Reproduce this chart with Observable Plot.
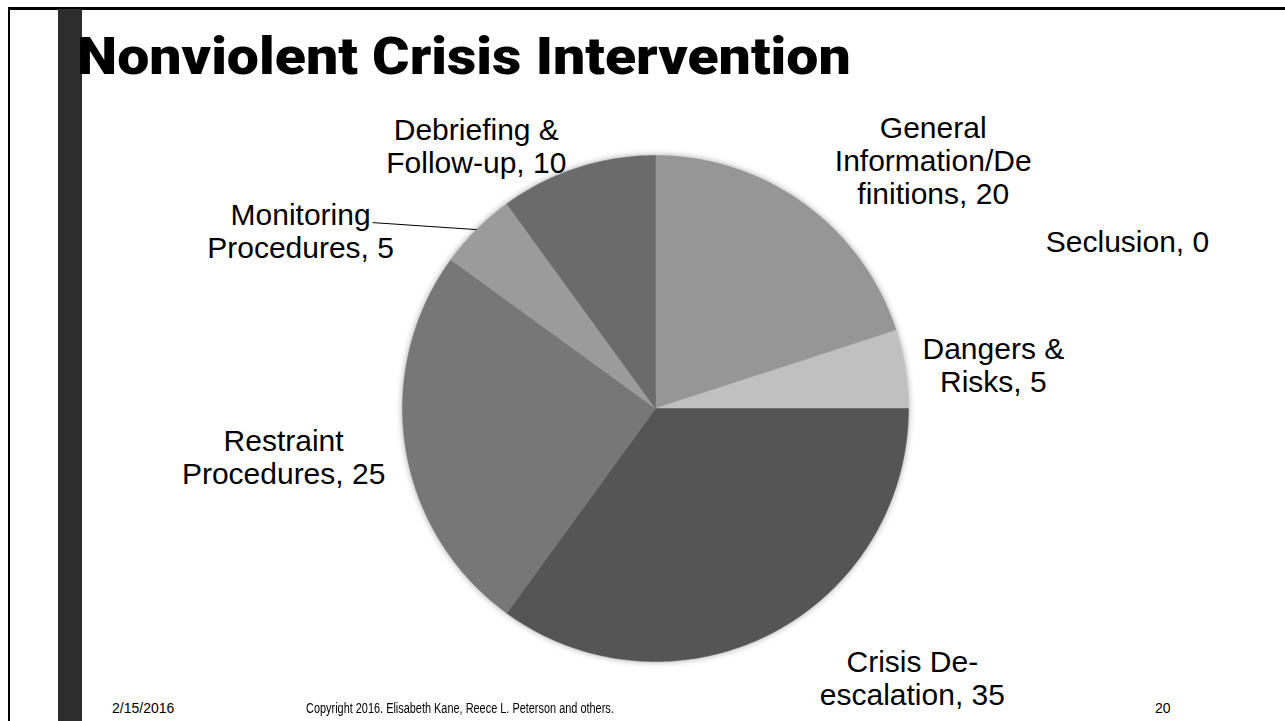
<!DOCTYPE html>
<html>
<head>
<meta charset="utf-8">
<script src="https://cdn.jsdelivr.net/npm/d3@7"></script>
<script src="https://cdn.jsdelivr.net/npm/@observablehq/plot@0.6"></script>
<style>
  html, body { margin: 0; padding: 0; background: #fff; }
  #slide { position: relative; width: 1285px; height: 721px; overflow: hidden; background: #fff; }
  #frameTop { position: absolute; left: 8px; top: 7px; width: 1277px; height: 3px; background: #000; }
  #frameLeft { position: absolute; left: 8px; top: 7px; width: 2px; height: 714px; background: #000; }
  #bar { position: absolute; left: 58px; top: 9px; width: 24px; height: 712px; background: #2d2d2d; }
  #title { position: absolute; left: 77px; top: 31px; font-family: Roboto, "Liberation Sans", sans-serif; font-weight: 900; font-size: 52px; line-height: 1; color: #000; white-space: nowrap; transform: scaleX(1.1); transform-origin: left center; }
  .foot { position: absolute; top: 700px; font-family: "Liberation Sans", sans-serif; font-size: 14px; color: #000; white-space: nowrap; transform-origin: left center; }
  #fCopy { transform: scaleX(0.78); }
  #chart { position: absolute; left: 0; top: 0; }
  #chart g[aria-label="line"] { filter: drop-shadow(0 0 3px rgba(0,0,0,0.35)); }
</style>
</head>
<body>
<div id="slide">
  <div id="chart"></div>
  <div id="frameTop"></div>
  <div id="frameLeft"></div>
  <div id="bar"></div>
  <div id="title"></div>
  <div class="foot" id="fDate" style="left:112px"></div>
  <div class="foot" id="fCopy" style="left:306px"></div>
  <div class="foot" id="fPage" style="left:1155px"></div>
</div>
<script>
// ---- data ----
const titleText = "Nonviolent Crisis Intervention";
const categories = ["General Information/Definitions", "Dangers & Risks", "Seclusion", "Crisis De-escalation", "Restraint Procedures", "Monitoring Procedures", "Debriefing & Follow-up"];
const values = [20, 5, 0, 35, 25, 5, 10];
const labelTexts = ["General\nInformation/De\nfinitions, 20", "Dangers &\nRisks, 5", "Seclusion, 0", "Crisis De-\nescalation, 35", "Restraint\nProcedures, 25", "Monitoring\nProcedures, 5", "Debriefing &\nFollow-up, 10"];
const footerDate = "2/15/2016";
const footerCopy = "Copyright 2016. Elisabeth Kane, Reece L. Peterson and others.";
const footerPage = "20";

// ---- layout / style (not data) ----
const sliceColors = ["#969696", "#c0c0c0", "#aaaaaa", "#555555", "#777777", "#9b9b9b", "#6b6b6b"];
const cx = 655, cy = 408, R = 253;
// pixel offsets of each label centre from the slice's outer mid-point
const labelOffsets = {
  "General Information/Definitions": [129, -43],
  "Dangers & Risks": [88, -4],
  "Seclusion": [219, -167],
  "Crisis De-escalation": [142, 44],
  "Restraint Procedures": [-122, 9],
  "Monitoring Procedures": [-176, 1],
  "Debriefing & Follow-up": [-101, -22]
};
const leader = {name: "Monitoring Procedures", dx: -104, dy: -7};

document.getElementById("title").textContent = titleText;
document.getElementById("fDate").textContent = footerDate;
document.getElementById("fCopy").textContent = footerCopy;
document.getElementById("fPage").textContent = footerPage;

const rows = categories.map((name, i) => ({name, value: values[i], label: labelTexts[i]}));
const arcs = d3.pie().sort(null).value(d => d.value)(rows);

// slice outlines on the unit circle (y up)
const pts = [];
for (const a of arcs) {
  if (a.endAngle - a.startAngle <= 0) continue;
  const n = Math.max(2, Math.ceil((a.endAngle - a.startAngle) / (Math.PI / 180)));
  pts.push({name: a.data.name, x: 0, y: 0});
  for (let k = 0; k <= n; k++) {
    const t = a.startAngle + (a.endAngle - a.startAngle) * k / n;
    pts.push({name: a.data.name, x: Math.sin(t), y: Math.cos(t)});
  }
  pts.push({name: a.data.name, x: 0, y: 0});
}

const mids = arcs.map(a => {
  const m = (a.startAngle + a.endAngle) / 2;
  return {name: a.data.name, label: a.data.label, x: Math.sin(m), y: Math.cos(m)};
});

const labelMarks = mids.map(d => Plot.text([d], {
  x: "x", y: "y", text: "label",
  dx: labelOffsets[d.name][0], dy: labelOffsets[d.name][1],
  textAnchor: "middle", lineAnchor: "middle", lineHeight: 1.1,
  fontSize: 30, fill: "#000"
}));

const lm = mids.find(d => d.name === leader.name);
const leaderData = [{x1: lm.x, y1: lm.y, x2: lm.x + leader.dx / R, y2: lm.y - leader.dy / R}];

const chart = Plot.plot({
  width: 1285, height: 721,
  margin: 0,
  style: {fontFamily: "'Liberation Sans', Arial, sans-serif", background: "transparent"},
  x: {domain: [-1, 1], range: [cx - R, cx + R], axis: null},
  y: {domain: [-1, 1], range: [cy + R, cy - R], axis: null},
  color: {domain: categories, range: sliceColors},
  marks: [
    Plot.line(pts, {x: "x", y: "y", z: "name", fill: "name", stroke: "name", strokeWidth: 0.5, curve: "linear"}),
    Plot.link(leaderData, {x1: "x1", y1: "y1", x2: "x2", y2: "y2", stroke: "#000", strokeWidth: 1}),
    ...labelMarks
  ]
});
document.getElementById("chart").append(chart);
</script>
</body>
</html>
